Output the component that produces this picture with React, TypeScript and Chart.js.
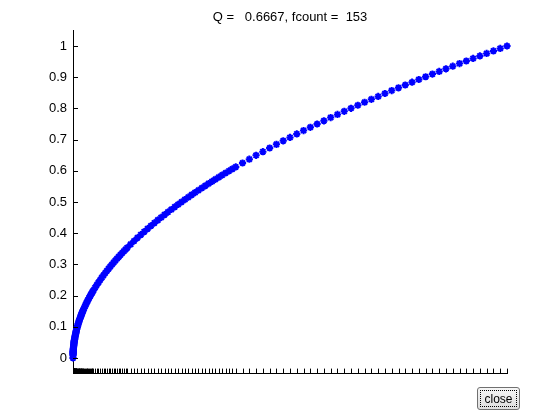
import React, { useEffect, useRef } from "react";
import { Chart, registerables } from "chart.js";

Chart.register(...registerables);

const titleText = "Q =   0.6667, fcount =  153";

// evaluation points (x) of the adaptive quadrature
const xs: number[] = [
  0, 0.000061, 0.0001221, 0.0001831, 0.0002441, 0.0003052, 0.0003662, 0.0004272, 0.0004883,
  0.0006104, 0.0007324, 0.0008545, 0.0009766, 0.0012207, 0.0014648, 0.001709, 0.0019531,
  0.0021973, 0.0024414, 0.0026855, 0.0029297, 0.0031738, 0.003418, 0.0036621, 0.0039063,
  0.0043945, 0.0048828, 0.0053711, 0.0058594, 0.0063477, 0.0068359, 0.0073242, 0.0078125,
  0.0087891, 0.0097656, 0.0107422, 0.0117188, 0.0126953, 0.0136719, 0.0146484, 0.015625,
  0.0166016, 0.0175781, 0.0185547, 0.0195313, 0.0205078, 0.0214844, 0.0224609, 0.0234375,
  0.0253906, 0.0273438, 0.0292969, 0.03125, 0.0332031, 0.0351563, 0.0371094, 0.0390625,
  0.0410156, 0.0429688, 0.0449219, 0.046875, 0.0507813, 0.0546875, 0.0585938, 0.0625,
  0.0664063, 0.0703125, 0.0742188, 0.078125, 0.0820313, 0.0859375, 0.0898438, 0.09375,
  0.0976563, 0.1015625, 0.1054688, 0.109375, 0.1132813, 0.1171875, 0.1210938, 0.125,
  0.1328125, 0.140625, 0.1484375, 0.15625, 0.1640625, 0.171875, 0.1796875, 0.1875,
  0.1953125, 0.203125, 0.2109375, 0.21875, 0.2265625, 0.234375, 0.2421875, 0.25,
  0.2578125, 0.265625, 0.2734375, 0.28125, 0.2890625, 0.296875, 0.3046875, 0.3125,
  0.3203125, 0.328125, 0.3359375, 0.34375, 0.3515625, 0.359375, 0.3671875, 0.375,
  0.390625, 0.40625, 0.421875, 0.4375, 0.453125, 0.46875, 0.484375, 0.5,
  0.515625, 0.53125, 0.546875, 0.5625, 0.578125, 0.59375, 0.609375, 0.625,
  0.640625, 0.65625, 0.671875, 0.6875, 0.703125, 0.71875, 0.734375, 0.75,
  0.765625, 0.78125, 0.796875, 0.8125, 0.828125, 0.84375, 0.859375, 0.875,
  0.890625, 0.90625, 0.921875, 0.9375, 0.953125, 0.96875, 0.984375, 1,
];

// function values at those points
const ys: number[] = [
  0, 0.0078, 0.011, 0.0135, 0.0156, 0.0175, 0.0191, 0.0207, 0.0221,
  0.0247, 0.0271, 0.0292, 0.0313, 0.0349, 0.0383, 0.0413, 0.0442,
  0.0469, 0.0494, 0.0518, 0.0541, 0.0563, 0.0585, 0.0605, 0.0625,
  0.0663, 0.0699, 0.0733, 0.0765, 0.0797, 0.0827, 0.0856, 0.0884,
  0.0938, 0.0988, 0.1036, 0.1083, 0.1127, 0.1169, 0.121, 0.125,
  0.1288, 0.1326, 0.1362, 0.1398, 0.1432, 0.1466, 0.1499, 0.1531,
  0.1593, 0.1654, 0.1712, 0.1768, 0.1822, 0.1875, 0.1926, 0.1976,
  0.2025, 0.2073, 0.2119, 0.2165, 0.2253, 0.2339, 0.2421, 0.25,
  0.2577, 0.2652, 0.2724, 0.2795, 0.2864, 0.2932, 0.2997, 0.3062,
  0.3125, 0.3187, 0.3248, 0.3307, 0.3366, 0.3423, 0.348, 0.3536,
  0.3644, 0.375, 0.3853, 0.3953, 0.405, 0.4146, 0.4239, 0.433,
  0.4419, 0.4507, 0.4593, 0.4677, 0.476, 0.4841, 0.4921, 0.5,
  0.5078, 0.5154, 0.5229, 0.5303, 0.5376, 0.5449, 0.552, 0.559,
  0.566, 0.5728, 0.5796, 0.5863, 0.5929, 0.5995, 0.606, 0.6124,
  0.625, 0.6374, 0.6495, 0.6614, 0.6731, 0.6847, 0.696, 0.7071,
  0.7181, 0.7289, 0.7395, 0.75, 0.7603, 0.7706, 0.7806, 0.7906,
  0.8004, 0.8101, 0.8197, 0.8292, 0.8385, 0.8478, 0.857, 0.866,
  0.875, 0.8839, 0.8927, 0.9014, 0.91, 0.9186, 0.927, 0.9354,
  0.9437, 0.952, 0.9601, 0.9682, 0.9763, 0.9843, 0.9922, 1,
];

const yTicks: number[] = [0, 0.1, 0.2, 0.3, 0.4, 0.5, 0.6, 0.7, 0.8, 0.9, 1];
const yTickLabels: string[] = ["0", "0.1", "0.2", "0.3", "0.4", "0.5", "0.6", "0.7", "0.8", "0.9", "1"];

const FONT = "'Liberation Sans', Arial, sans-serif";

export default function App() {
  const ref = useRef<HTMLCanvasElement | null>(null);

  useEffect(() => {
    if (!ref.current) return;
    const decor = {
      id: "decor",
      afterDraw(chart: any) {
        const ctx = chart.ctx;
        const area = chart.chartArea;
        const xs_ = chart.scales.x;
        const ys_ = chart.scales.y;
        ctx.save();
        ctx.strokeStyle = "#000";
        ctx.lineWidth = 1;
        ctx.beginPath();
        for (const v of xs) {
          const px = Math.round(xs_.getPixelForValue(v)) + 0.5;
          ctx.moveTo(px, area.bottom);
          ctx.lineTo(px, area.bottom - 5);
        }
        for (const v of yTicks) {
          const py = Math.round(ys_.getPixelForValue(v)) + 0.5;
          ctx.moveTo(area.left, py);
          ctx.lineTo(area.left + 5, py);
        }
        ctx.stroke();
        ctx.fillStyle = "#000";
        ctx.font = "13px " + FONT;
        ctx.textAlign = "center";
        ctx.textBaseline = "middle";
        ctx.fillText(titleText, (area.left + area.right) / 2, 17);
        ctx.restore();
      },
    };

    const chart = new Chart(ref.current, {
      type: "scatter",
      data: {
        datasets: [
          {
            data: xs.map((x, i) => ({ x, y: ys[i] })),
            pointStyle: "star",
            pointRadius: 3.6,
            pointBorderWidth: 2,
            borderColor: "#0000ff",
            backgroundColor: "#0000ff",
            showLine: false,
            clip: false as any,
          },
        ],
      },
      options: {
        animation: false,
        responsive: false,
        events: [],
        layout: { padding: { top: 30.4, right: 53, left: 0, bottom: 0 } },
        plugins: { legend: { display: false }, tooltip: { enabled: false }, title: { display: false } },
        scales: {
          x: {
            type: "linear",
            min: 0,
            max: 1,
            grid: { display: false, drawTicks: false },
            border: { display: true, color: "#000", width: 1 },
            ticks: { display: false },
            afterFit: (s: any) => {
              s.height = 46.4;
            },
          },
          y: {
            type: "linear",
            min: -0.05,
            max: 1.05,
            grid: { display: false, drawTicks: false },
            border: { display: true, color: "#000", width: 1 },
            afterBuildTicks: (s: any) => {
              s.ticks = yTicks.map((v) => ({ value: v }));
            },
            ticks: {
              color: "#000",
              padding: 6,
              font: { family: FONT, size: 13 },
              callback: (_v: any, i: number) => yTickLabels[i],
            },
            afterFit: (s: any) => {
              s.width = 73;
            },
          },
        },
      },
      plugins: [decor],
    });
    return () => chart.destroy();
  }, []);

  return (
    <div style={{ position: "fixed", left: 0, top: 0, width: 560, height: 420, background: "#fff" }}>
      <canvas ref={ref} width={560} height={420} style={{ display: "block" }} />
      <button
        style={{
          position: "absolute",
          left: 477,
          top: 387,
          width: 43,
          height: 23,
          padding: 0,
          fontFamily: FONT,
          fontSize: 12,
          color: "#000",
          background: "linear-gradient(#f6f6f6, #dddddd)",
          border: "1px solid #707070",
          borderRadius: 3,
          outline: "1px dotted #000",
          outlineOffset: -4,
        }}
      >
        close
      </button>
    </div>
  );
}
